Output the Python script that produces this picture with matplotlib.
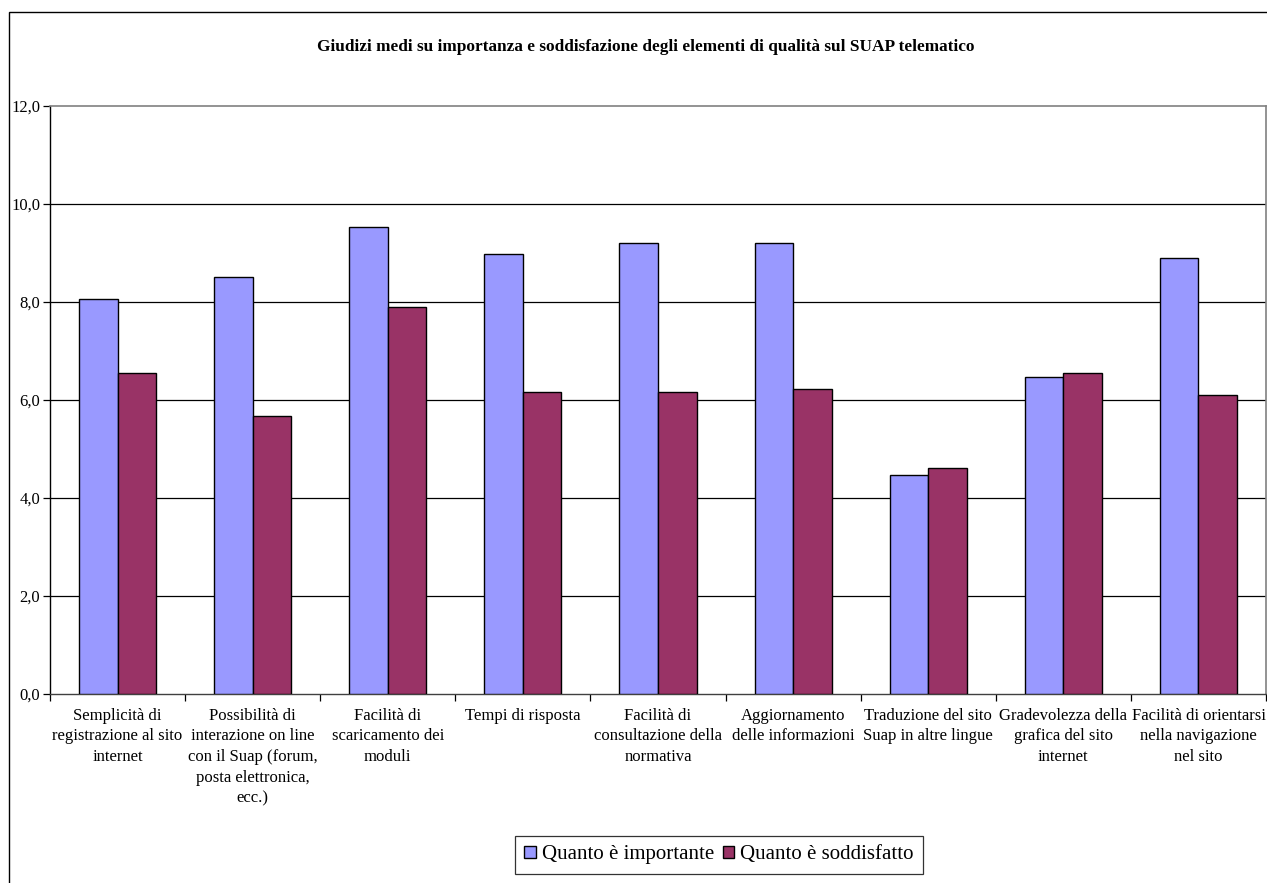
import matplotlib
matplotlib.use("Agg")
import matplotlib.pyplot as plt
from matplotlib.patches import Rectangle
from matplotlib.ticker import FixedLocator, FuncFormatter
import numpy as np

categories = [
    "Semplicità di\nregistrazione al sito\ninternet",
    "Possibilità di\ninterazione on line\ncon il Suap (forum,\nposta elettronica,\necc.)",
    "Facilità di\nscaricamento dei\nmoduli",
    "Tempi di risposta",
    "Facilità di\nconsultazione della\nnormativa",
    "Aggiornamento\ndelle informazioni",
    "Traduzione del sito\nSuap in altre lingue",
    "Gradevolezza della\ngrafica del sito\ninternet",
    "Facilità di orientarsi\nnella navigazione\nnel sito",
]
importante = [8.06, 8.50, 9.53, 8.98, 9.20, 9.20, 4.47, 6.47, 8.89]
soddisfatto = [6.56, 5.67, 7.89, 6.17, 6.17, 6.22, 4.61, 6.56, 6.10]
series_names = ["Quanto è importante", "Quanto è soddisfatto"]
title = "Giudizi medi su importanza e soddisfazione degli elementi di qualità sul SUAP telematico"
y_ticks = [0, 2, 4, 6, 8, 10, 12]

plt.rcParams["font.family"] = ["Liberation Serif", "DejaVu Serif"]

W, H = 1267, 883
fig = plt.figure(figsize=(W / 100, H / 100), dpi=100)

# outer chart frame (only top and left edges fall inside the canvas)
fig.patches.append(Rectangle((9 / W, -0.5), 2.0, 1.5 - 12 / H, transform=fig.transFigure,
                             fill=False, edgecolor="black", linewidth=1.0, clip_on=False))

ax = fig.add_axes([50 / W, (H - 694) / H, 1216 / W, 588 / H])

n = len(categories)
centers = np.arange(n) + 0.5
bw = 1 / 3.5
ax.bar(centers - bw / 2, importante, width=bw, color="#9999FF", edgecolor="black",
       linewidth=1.0, label=series_names[0], zorder=3)
ax.bar(centers + bw / 2, soddisfatto, width=bw, color="#993366", edgecolor="black",
       linewidth=1.0, label=series_names[1], zorder=3)

ax.set_xlim(0, n)
ax.set_ylim(0, 12)

for v in y_ticks[1:-1]:
    ax.axhline(v, color="black", linewidth=0.9, zorder=1)

ax.yaxis.set_major_locator(FixedLocator(y_ticks))
ax.yaxis.set_major_formatter(FuncFormatter(lambda v, p: f"{v:.1f}".replace(".", ",")))
ax.tick_params(axis="y", direction="out", length=5, width=0.9, labelsize=12, pad=2)

ax.set_xticks(centers)
ax.set_xticklabels(categories, fontsize=12, linespacing=1.38, va="top")
ax.set_xticks(np.arange(n + 1), minor=True)
ax.tick_params(axis="x", which="major", length=0, pad=10)
ax.tick_params(axis="x", which="minor", direction="out", length=5, width=0.9)

ax.spines["left"].set_color("black")
ax.spines["left"].set_linewidth(1.0)
ax.spines["bottom"].set_color("#404040")
ax.spines["bottom"].set_linewidth(1.0)
ax.spines["top"].set_color("#808080")
ax.spines["top"].set_linewidth(1.2)
ax.spines["right"].set_color("#808080")
ax.spines["right"].set_linewidth(1.2)

fig.text(646 / W, 1 - 47 / H, title, ha="center", va="center", fontsize=12.4,
         fontweight="bold")

leg = fig.legend(loc="center", bbox_to_anchor=(719 / W, 1 - 855 / H), ncol=2,
                 fontsize=15, frameon=True, fancybox=False, edgecolor="black",
                 handlelength=0.55, handleheight=0.55, handletextpad=0.3,
                 columnspacing=0.4, borderpad=0.45, borderaxespad=0)
leg.get_frame().set_linewidth(0.9)

fig.savefig("out.png", dpi=100)
